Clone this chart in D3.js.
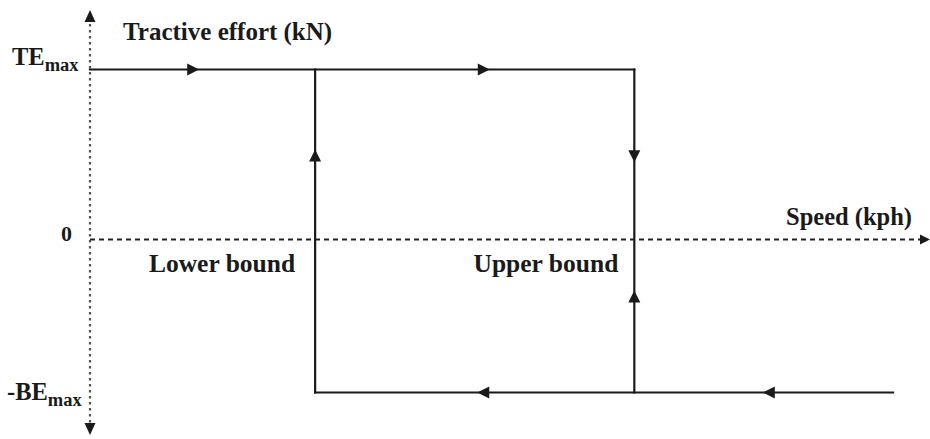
<!DOCTYPE html>
<html>
<head>
<meta charset="utf-8">
<script src="https://cdn.jsdelivr.net/npm/d3@7"></script>
<style>
html,body{margin:0;padding:0;background:#fff;}
svg{display:block;}
text{font-family:"Liberation Serif","Times New Roman",serif;font-weight:bold;fill:#1a1a1a;}
</style>
</head>
<body>
<svg id="chart" width="930" height="439"></svg>
<script>
// ---- data (speed in % of axis, effort normalised to TEmax = 1) ----
const speedDomain = [0, 100];
const effortDomain = [-1.15, 1.35];
const TEmax = 1;
const BEmax = 0.9;
const lowerBound = 26.8;
const upperBound = 64.8;
const speedEnd = 95.6;
const yLevelLabels = ["TEmax", "0", "-BEmax"];
const yLevelValues = [TEmax, 0, -BEmax];
// hysteresis path segments [x1,y1,x2,y2]
const segments = [
  [0, TEmax, upperBound, TEmax],
  [lowerBound, -BEmax, lowerBound, TEmax],
  [upperBound, TEmax, upperBound, -BEmax],
  [lowerBound, -BEmax, speedEnd, -BEmax]
];
// arrowheads: tip position and direction
const arrowX = [13.0, 47.6, lowerBound, upperBound, upperBound, 46.1, 80.1];
const arrowY = [TEmax, TEmax, 0.53, 0.455, -0.3, -BEmax, -BEmax];
const arrowDir = ["right", "right", "up", "down", "up", "left", "left"];

const svg = d3.select("#chart");
const x = d3.scaleLinear().domain(speedDomain).range([90, 930]);
const y = d3.scaleLinear().domain(effortDomain).range([435, 10]);
const ink = "#1a1a1a";

function arrowPath(tx, ty, dir, len, half) {
  const p = d3.path();
  if (dir === "right") { p.moveTo(tx, ty); p.lineTo(tx - len, ty - half); p.lineTo(tx - len, ty + half); }
  if (dir === "left")  { p.moveTo(tx, ty); p.lineTo(tx + len, ty - half); p.lineTo(tx + len, ty + half); }
  if (dir === "up")    { p.moveTo(tx, ty); p.lineTo(tx - half, ty + len); p.lineTo(tx + half, ty + len); }
  if (dir === "down")  { p.moveTo(tx, ty); p.lineTo(tx - half, ty - len); p.lineTo(tx + half, ty - len); }
  p.closePath();
  return p.toString();
}

// Y axis (dotted) with arrows both ends
svg.append("line")
  .attr("x1", x(0)).attr("x2", x(0))
  .attr("y1", y(effortDomain[1]) + 8).attr("y2", y(effortDomain[0]) - 8)
  .attr("stroke", "#555").attr("stroke-width", 2.2).attr("stroke-dasharray", "2.5,3.5");
svg.append("path").attr("d", arrowPath(x(0), y(effortDomain[1]), "up", 12, 5.5)).attr("fill", ink);
svg.append("path").attr("d", arrowPath(x(0), y(effortDomain[0]), "down", 12, 5.5)).attr("fill", ink);

// X axis (dashed) at zero
svg.append("line")
  .attr("x1", x(0)).attr("x2", x(speedDomain[1]) - 8)
  .attr("y1", y(0)).attr("y2", y(0))
  .attr("stroke", "#222").attr("stroke-width", 1.8).attr("stroke-dasharray", "5,4");
svg.append("path").attr("d", arrowPath(x(speedDomain[1]), y(0), "right", 10, 5)).attr("fill", ink);

// hysteresis lines
svg.selectAll("line.seg").data(segments).join("line")
  .attr("class", "seg")
  .attr("x1", d => x(d[0])).attr("y1", d => y(d[1]))
  .attr("x2", d => x(d[2])).attr("y2", d => y(d[3]))
  .attr("stroke", ink).attr("stroke-width", 2.2).attr("stroke-linecap", "square");

// arrowheads
svg.selectAll("path.arr").data(arrowX.map((v, i) => i)).join("path")
  .attr("class", "arr")
  .attr("d", i => arrowPath(x(arrowX[i]), y(arrowY[i]), arrowDir[i], 12, 6))
  .attr("fill", ink);

// axis labels
svg.append("text").attr("x", 123).attr("y", 40).attr("font-size", 25).text("Tractive effort (kN)");
svg.append("text").attr("x", 912).attr("y", 225).attr("font-size", 24.5).attr("text-anchor", "end").text("Speed (kph)");

// level labels
function levelLabel(label, value) {
  const yy = y(value);
  if (label === "0") {
    svg.append("text").attr("x", 72).attr("y", yy + 1).attr("text-anchor", "end").attr("font-size", 22).text("0");
    return;
  }
  const neg = label.startsWith("-");
  const main = label.replace("max", "");
  const t = svg.append("text").attr("x", neg ? 7 : 12).attr("y", neg ? yy + 7 : yy - 5).attr("font-size", 24.5);
  t.append("tspan").text(main);
  t.append("tspan").attr("font-size", 18.5).attr("dy", 6).text("max");
}
yLevelLabels.forEach((l, i) => levelLabel(l, yLevelValues[i]));

// bound labels
svg.append("text").attr("x", x(lowerBound) - 20).attr("y", 272).attr("text-anchor", "end").attr("font-size", 25.5).text("Lower bound");
svg.append("text").attr("x", x(upperBound) - 16).attr("y", 272).attr("text-anchor", "end").attr("font-size", 25.5).text("Upper bound");
</script>
</body>
</html>
